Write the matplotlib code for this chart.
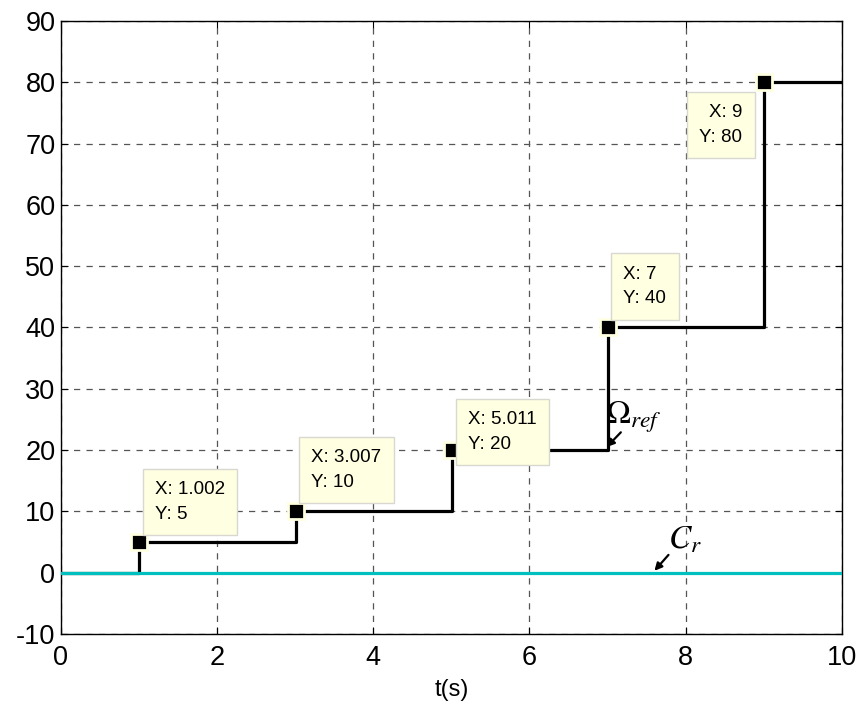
import numpy as np
import matplotlib.pyplot as plt

plt.rcParams['font.family'] = ['Liberation Sans', 'DejaVu Sans']
plt.rcParams['mathtext.fontset'] = 'stix'
plt.rcParams['axes.unicode_minus'] = False

# step reference speed (data tips)
t_steps = [0, 1.002, 3.007, 5.011, 7, 9, 10]
w_ref = [0, 5, 10, 20, 40, 80, 80]
tip_x = [1.002, 3.007, 5.011, 7, 9]
tip_y = [5, 10, 20, 40, 80]
tip_lbl = ['X: 1.002\nY: 5', 'X: 3.007\nY: 10', 'X: 5.011\nY: 20', 'X: 7\nY: 40', 'X: 9\nY: 80']
# load torque
t_cr = [0, 10]
cr = [0, 0]

# box centres for the data tips
box_pos = [(1.652, 11.5), (3.655, 16.7), (5.653, 22.9), (7.478, 46.7), (8.451, 73.0)]

fig = plt.figure(figsize=(8.59, 7.07), dpi=100)
ax = fig.add_axes([0.071, 0.1033, 0.909, 0.867])

ax.plot(t_steps, w_ref, color='k', lw=2.3, drawstyle='steps-post', zorder=3)
ax.plot(t_cr, cr, color='#00BFBF', lw=2.3, zorder=4)
ax.plot(tip_x, tip_y, ls='none', marker='s', ms=11, mfc='k', mec='#FFFFE1', mew=2, zorder=6)

for (bx, by), s, i in zip(box_pos, tip_lbl, range(5)):
    ax.text(bx, by, s, ha='center', va='center', fontsize=13.5, linespacing=1.6,
            multialignment='right' if i == 4 else 'left', zorder=7,
            bbox=dict(boxstyle='square,pad=0.65', fc='#FFFFE1', ec='#D8D8D0', lw=1))

ax.text(6.97, 24.4, r'$\Omega_{ref}$', fontsize=24, zorder=8)
ax.annotate('', xy=(6.99, 20.5), xytext=(7.17, 22.9),
            arrowprops=dict(arrowstyle='-|>', color='k', lw=1.6, mutation_scale=11,
                            shrinkA=0, shrinkB=0), zorder=8)
ax.text(7.78, 4.0, r'$C_r$', fontsize=24, zorder=8)
ax.annotate('', xy=(7.6, 0.3), xytext=(7.78, 2.9),
            arrowprops=dict(arrowstyle='-|>', color='k', lw=1.6, mutation_scale=11,
                            shrinkA=0, shrinkB=0), zorder=8)

ax.set_xlim(0, 10)
ax.set_ylim(-10, 90)
ax.set_xticks(np.arange(0, 11, 2))
ax.set_yticks(np.arange(-10, 91, 10))
ax.grid(True, ls=(0, (5, 5)), color='#555555', lw=0.9)
ax.tick_params(direction='in', labelsize=19.5, length=5, top=True, right=True)
ax.tick_params(axis='x', pad=8)
ax.tick_params(axis='y', pad=4)
ax.set_xlabel('t(s)', fontsize=17, labelpad=6)
for sp in ax.spines.values():
    sp.set_linewidth(1.0)

fig.savefig('out.png', dpi=100)
